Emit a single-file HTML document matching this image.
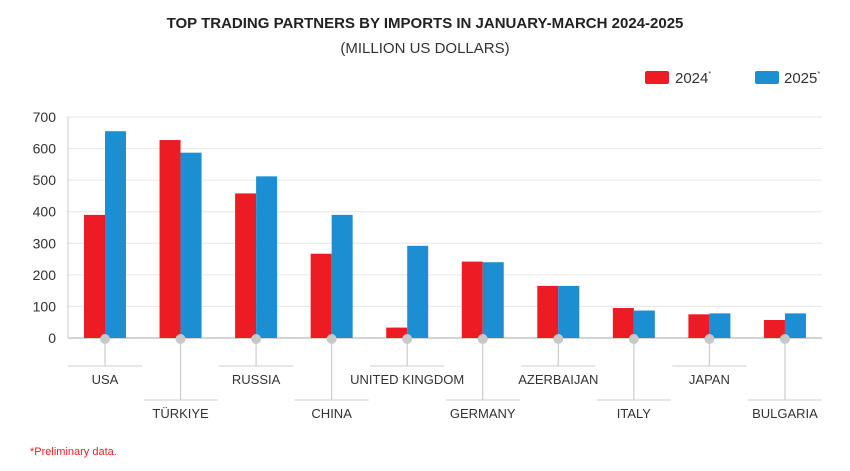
<!DOCTYPE html>
<html><head><meta charset="utf-8"><style>
body{margin:0;background:#fff;font-family:"Liberation Sans",sans-serif;}
svg text{font-family:"Liberation Sans",sans-serif;}
</style></head><body>
<svg width="850" height="466">
<text x="425" y="28" text-anchor="middle" font-size="15" font-weight="bold" fill="#222">TOP TRADING PARTNERS BY IMPORTS IN JANUARY-MARCH 2024-2025</text>
<text x="425" y="53" text-anchor="middle" font-size="15" fill="#333">(MILLION US DOLLARS)</text>
<g>
<rect x="645" y="71" width="24" height="13" rx="2" fill="#ec1c24"/>
<text x="675" y="83" font-size="15" fill="#333">2024<tspan font-size="7" dy="-7">*</tspan></text>
<rect x="755" y="71" width="24" height="13" rx="2" fill="#1b8fd2"/>
<text x="784" y="83" font-size="15" fill="#333">2025<tspan font-size="7" dy="-7">*</tspan></text>
</g>
<g id="grid"></g><g id="bars"></g><g id="cats"></g>
<text x="30" y="455" font-size="11" fill="#ec1c24">*Preliminary data.</text>
</svg>
<script>
const categories=["USA","TÜRKIYE","RUSSIA","CHINA","UNITED KINGDOM","GERMANY","AZERBAIJAN","ITALY","JAPAN","BULGARIA"];
const values2024=[390,627,458,267,33,242,165,95,75,57];
const values2025=[655,587,512,390,292,240,165,87,78,78];
const yTicks=[0,100,200,300,400,500,600,700];
const NS="http://www.w3.org/2000/svg";
const y0=338,yTop=117,x0=68,x1=822;
function y(v){return y0-(v/700)*(y0-yTop);}
function xc(i){return 105+i*75.55;}
function mk(tag,attrs,parent){const e=document.createElementNS(NS,tag);for(const k in attrs)e.setAttribute(k,attrs[k]);document.getElementById(parent).appendChild(e);return e;}
yTicks.forEach(t=>{
 const l=mk("line",{x1:x0,x2:x1,y1:y(t),y2:y(t),stroke:t===0?"#aaa":"#e6e6e6","stroke-width":1},"grid");
 
 
 const tx=mk("text",{x:56,y:y(t)+5,"text-anchor":"end","font-size":14,fill:"#333"},"grid");
 tx.textContent=t;
 
 
});
mk("line",{x1:x0,x2:x0,y1:yTop,y2:y0,stroke:"#ccc"},"grid");
categories.forEach((c,i)=>{
 const cx=xc(i);
 const r=mk("rect",{x:cx-21,y:y(values2024[i]),width:21,height:y0-y(values2024[i]),fill:"#ec1c24"},"bars");
 
 
 const b=mk("rect",{x:cx,y:y(values2025[i]),width:21,height:y0-y(values2025[i]),fill:"#1b8fd2"},"bars");
 
 
 const low=i%2===1;const ly=low?400:366;
 mk("line",{x1:cx,x2:cx,y1:y0,y2:ly,stroke:"#ccc","stroke-width":1.2},"cats");
 mk("line",{x1:cx-37,x2:cx+37,y1:ly,y2:ly,stroke:"#ccc","stroke-width":1},"cats");
 mk("circle",{cx:cx,cy:y0+1,r:5,fill:"#c8c8c8"},"cats");
 const t=mk("text",{x:cx,y:ly+18,"text-anchor":"middle","font-size":13,fill:"#333"},"cats");
 t.textContent=c;
 
 
});
</script>
</body></html>
